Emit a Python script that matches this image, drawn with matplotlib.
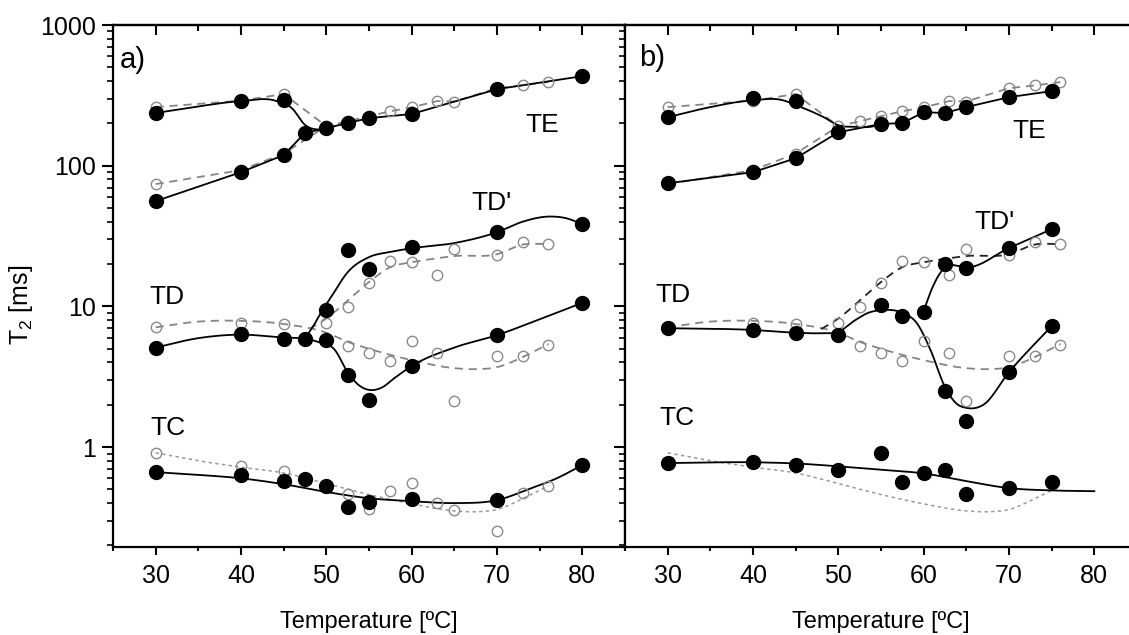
import matplotlib.pyplot as plt
import numpy as np
from matplotlib.ticker import LogLocator, MultipleLocator, NullFormatter, FuncFormatter

plt.rcParams['font.family'] = ['Liberation Sans', 'DejaVu Sans']
plt.rcParams['mathtext.fontset'] = 'custom'
plt.rcParams['mathtext.rm'] = 'Liberation Sans'
plt.rcParams['mathtext.it'] = 'Liberation Sans:italic'

# ---- reference series (open grey circles), shown in both panels ----
ref_te_hi_T = [30, 40, 45]
ref_te_hi = [261, 290, 323]
ref_te_T = [30, 40, 45, 50, 52.5, 55, 57.5, 60, 63, 65, 70, 73, 76]
ref_te = [74, 93, 122, 191, 207, 225, 244, 260, 288, 286, 356, 372, 393]
ref_tdp_T = [50, 52.5, 55, 57.5, 60, 63, 65, 70, 73, 76]
ref_tdp = [7.6, 9.9, 14.6, 21, 20.6, 16.7, 25.5, 23.2, 28.6, 27.7]
ref_td_T = [30, 40, 45, 52.5, 55, 57.5, 60, 63, 65, 70, 73, 76]
ref_td = [7.1, 7.6, 7.5, 5.2, 4.65, 4.08, 5.66, 4.65, 2.12, 4.43, 4.43, 5.3]
ref_tc_T = [30, 40, 45, 52.5, 55, 57.5, 60, 63, 65, 70, 73, 76]
ref_tc = [0.906, 0.733, 0.675, 0.464, 0.362, 0.486, 0.555, 0.40, 0.356, 0.253, 0.471, 0.528]

# guide curves for the reference series
ref_td_fit_T = [30, 35, 40, 45, 50, 52.5, 55, 60, 65, 67.5, 70, 73, 76]
ref_td_fit = [7.1, 7.8, 7.9, 7.5, 6.5, 5.6, 5.0, 4.15, 3.64, 3.58, 3.7, 4.36, 5.4]
ref_tdp_fit_T = [48, 50, 52.5, 55, 57.5, 60, 63, 65, 70, 73, 76]
ref_tdp_fit = [6.9, 8.2, 11, 14.9, 19, 20.6, 22, 22.8, 23.5, 27.5, 27.7]
ref_tc_fit_T = [30, 35, 40, 45, 50, 55, 60, 65, 67.5, 70, 73, 76]
ref_tc_fit = [0.91, 0.80, 0.72, 0.655, 0.55, 0.46, 0.395, 0.352, 0.347, 0.36, 0.43, 0.53]

# ---- panel a ----
a_T = [30, 40, 45, 47.5, 50, 52.5, 55, 60, 70, 80]
a_te = [56, 90, 119, 171, 185, 201, 218, 233, 350, 433]
a_te_hi_T = [30, 40, 45]
a_te_hi = [237, 288, 292]
a_td = [5.1, 6.4, 5.9, 5.9, 5.76, 3.25, 2.16, 3.77, 6.25, 10.6]
a_tdp_T = [50, 52.5, 55, 60, 70, 80]
a_tdp = [9.4, 25, 18.4, 26.4, 33.7, 38.5]
a_tc = [0.664, 0.632, 0.573, 0.593, 0.529, 0.375, 0.406, 0.427, 0.42, 0.745]

a_te_hi_fit_T = [30, 35, 40, 44, 46, 47.5, 49, 50]
a_te_hi_fit = [237, 264, 288, 290, 255, 195, 181, 185]
a_td_fit_T = [30, 35, 40, 45, 47.5, 49, 51, 52.5, 54, 55, 56.5, 58, 60, 65, 70, 75, 80]
a_td_fit = [5.1, 5.95, 6.3, 6.0, 5.9, 5.6, 4.9, 3.4, 2.7, 2.55, 2.65, 3.1, 3.77, 5.1, 6.25, 8.1, 10.6]
a_tdp_fit_T = [47.5, 48.5, 49.5, 50.5, 52.5, 55, 57.5, 60, 65, 70, 73, 76, 78, 80]
a_tdp_fit = [5.9, 7.3, 9.3, 11.5, 17.5, 22.4, 24.4, 25.9, 28.2, 33.7, 40, 43.5, 42.5, 38.5]
a_tc_fit_T = [30, 35, 40, 45, 50, 55, 60, 65, 70, 74, 77, 80]
a_tc_fit = [0.664, 0.635, 0.60, 0.545, 0.48, 0.433, 0.413, 0.40, 0.42, 0.51, 0.6, 0.745]

# ---- panel b ----
b_T = [30, 40, 45, 50, 55, 57.5, 60, 62.5, 65, 70, 75]
b_te = [75, 90, 113, 173, 198, 201, 240, 237, 261, 307, 339]
b_te_hi_T = [30, 40, 45]
b_te_hi = [221, 302, 288]
b_td = [7.0, 6.8, 6.46, 6.25, 10.2, 8.5, 9.2, 2.5, 1.53, 3.41, 7.25]
b_tdp_T = [62.5, 65, 70, 75]
b_tdp = [20, 18.7, 26, 35.4]
b_tc = [0.77, 0.78, 0.745, 0.687, 0.906, 0.564, 0.654, 0.687, 0.463, 0.511, 0.564]

b_te_hi_fit_T = [30, 35, 40, 43.5, 45, 48.3, 50, 52, 54, 55]
b_te_hi_fit = [221, 261, 292, 292, 270, 221, 194, 189, 190, 198]
b_td_fit_T = [30, 40, 45, 48, 50, 52, 53.5, 55, 57.5, 59.2, 60.8, 62.5, 63.8, 65, 67, 70, 75]
b_td_fit = [7.0, 6.8, 6.5, 6.45, 6.6, 8.0, 9.0, 9.4, 9.0, 7.6, 4.9, 2.67, 2.05, 1.9, 2.0, 3.41, 7.25]
b_tdp_fit_T = [60, 61, 62, 63, 64, 65, 70, 75]
b_tdp_fit = [9.3, 13.5, 17.5, 19.6, 19.4, 19.0, 26, 35.4]
b_tc_fit_T = [30, 40, 45, 50, 55, 60, 65, 70, 75, 80]
b_tc_fit = [0.77, 0.78, 0.765, 0.73, 0.69, 0.65, 0.573, 0.511, 0.492, 0.486]

# label texts and positions (temperature, T2)
a_labels = [('a)', 27.3, 560, 21), ('TE', 75.3, 194, 19), ("TD'", 69.3, 54, 19),
            ('TD', 31.3, 11.6, 19), ('TC', 31.4, 1.36, 19)]
b_labels = [('b)', 28.2, 580, 21), ('TE', 72.4, 176, 19), ("TD'", 68.3, 39.7, 19),
            ('TD', 30.6, 12.0, 19), ('TC', 31.1, 1.61, 19)]


def spline(x, y, n=40):
    """Cubic Hermite curve through the nodes, built in log10 space."""
    x = np.asarray(x, float)
    ly = np.log10(np.asarray(y, float))
    m = np.gradient(ly, x)
    xs, ys = [], []
    for i in range(len(x) - 1):
        h = x[i + 1] - x[i]
        t = np.linspace(0, 1, n)
        h00 = 2 * t**3 - 3 * t**2 + 1
        h10 = t**3 - 2 * t**2 + t
        h01 = -2 * t**3 + 3 * t**2
        h11 = t**3 - t**2
        ys.append(h00 * ly[i] + h10 * h * m[i] + h01 * ly[i + 1] + h11 * h * m[i + 1])
        xs.append(x[i] + t * h)
    return np.concatenate(xs), 10 ** np.concatenate(ys)


GREY = '#858585'
dash = dict(color=GREY, lw=1.3, dashes=(4.5, 3.2))
dot = dict(color='#9a9a9a', lw=1.1, dashes=(2.2, 2.2))
solid = dict(color='black', lw=1.3)
full = dict(ls='none', marker='o', ms=10, mfc='black', mec='black', zorder=5)
hollow = dict(ls='none', marker='o', ms=7.5, mfc='none', mec='#8a8a8a', mew=1.0, zorder=4)


def style_axes(ax, show_ylabels):
    ax.set_yscale('log')
    ax.set_xlim(25, 85)
    ax.set_ylim(0.195, 1000)
    ax.xaxis.set_major_locator(MultipleLocator(10))
    ax.xaxis.set_minor_locator(MultipleLocator(5))
    ax.yaxis.set_major_locator(LogLocator(base=10))
    ax.yaxis.set_minor_locator(LogLocator(base=10, subs=np.arange(2, 10)))
    ax.yaxis.set_minor_formatter(NullFormatter())
    ax.yaxis.set_major_formatter(FuncFormatter(lambda v, _: f'{v:g}'))
    ax.tick_params(axis='x', which='both', direction='out', top=False, labelsize=18, pad=6)
    ax.tick_params(axis='x', which='major', length=6, width=1.5)
    ax.tick_params(axis='x', which='minor', length=3, width=1.5)
    ax.tick_params(axis='y', which='both', direction='out', right=False,
                   labelleft=show_ylabels, labelsize=18, pad=4)
    ax.tick_params(axis='y', which='major', length=8, width=1.5)
    ax.tick_params(axis='y', which='minor', length=4, width=1.2)
    for s in ax.spines.values():
        s.set_linewidth(1.6)
    top = ax.secondary_xaxis('top')
    top.xaxis.set_major_locator(MultipleLocator(10))
    top.xaxis.set_minor_locator(MultipleLocator(5))
    top.tick_params(which='both', direction='in', labeltop=False, width=1.5)
    top.tick_params(which='major', length=7)
    top.tick_params(which='minor', length=4)
    top.spines['top'].set_linewidth(1.6)
    ax.set_xlabel('Temperature [ºC]', fontsize=17, labelpad=17)


def draw_reference(ax, tdp_color):
    ax.plot(ref_te_hi_T + [50], ref_te_hi + [ref_te[3]], **dash)
    ax.plot(ref_te_T, ref_te, **dash)
    ax.plot(*spline(ref_td_fit_T, ref_td_fit), **dash)
    d = dict(dash)
    d['color'] = tdp_color
    ax.plot(*spline(ref_tdp_fit_T, ref_tdp_fit), **d)
    ax.plot(*spline(ref_tc_fit_T, ref_tc_fit), **dot)
    for xs, ys in [(ref_te_hi_T, ref_te_hi), (ref_te_T, ref_te), (ref_tdp_T, ref_tdp),
                   (ref_td_T, ref_td)]:
        ax.plot(xs, ys, **hollow)


fig = plt.figure(figsize=(11.29, 6.35), dpi=100)
ax_a = fig.add_axes([0.1001, 0.1386, 0.4535, 0.822])
ax_b = fig.add_axes([0.5536, 0.1386, 0.4535, 0.822])

# --- panel a ---
draw_reference(ax_a, GREY)
ax_a.plot(ref_tc_T, ref_tc, **hollow)
ax_a.plot(*spline(a_te_hi_fit_T, a_te_hi_fit), **solid)
ax_a.plot(a_T, a_te, **solid)
ax_a.plot(*spline(a_td_fit_T, a_td_fit), **solid)
ax_a.plot(*spline(a_tdp_fit_T, a_tdp_fit), **solid)
ax_a.plot(*spline(a_tc_fit_T, a_tc_fit), **solid)
for xs, ys in [(a_T, a_te), (a_te_hi_T, a_te_hi), (a_T, a_td), (a_tdp_T, a_tdp), (a_T, a_tc)]:
    ax_a.plot(xs, ys, **full)
for txt, x, y, fs in a_labels:
    ax_a.text(x, y, txt, fontsize=fs, ha='center', va='center')
style_axes(ax_a, True)
ax_a.set_ylabel('T$_2$ [ms]', fontsize=18)
ax_a.yaxis.set_label_coords(-0.152, 0.464)

# --- panel b ---
draw_reference(ax_b, '#222222')
ax_b.plot(*spline(b_te_hi_fit_T, b_te_hi_fit), **solid)
ax_b.plot(b_T, b_te, **solid)
ax_b.plot(*spline(b_td_fit_T, b_td_fit), **solid)
ax_b.plot(*spline(b_tdp_fit_T, b_tdp_fit), **solid)
ax_b.plot(*spline(b_tc_fit_T, b_tc_fit), **solid)
for xs, ys in [(b_T, b_te), (b_te_hi_T, b_te_hi), (b_T, b_td), (b_tdp_T, b_tdp), (b_T, b_tc)]:
    ax_b.plot(xs, ys, **full)
for txt, x, y, fs in b_labels:
    ax_b.text(x, y, txt, fontsize=fs, ha='center', va='center')
style_axes(ax_b, False)

fig.savefig('out.png', dpi=100)
